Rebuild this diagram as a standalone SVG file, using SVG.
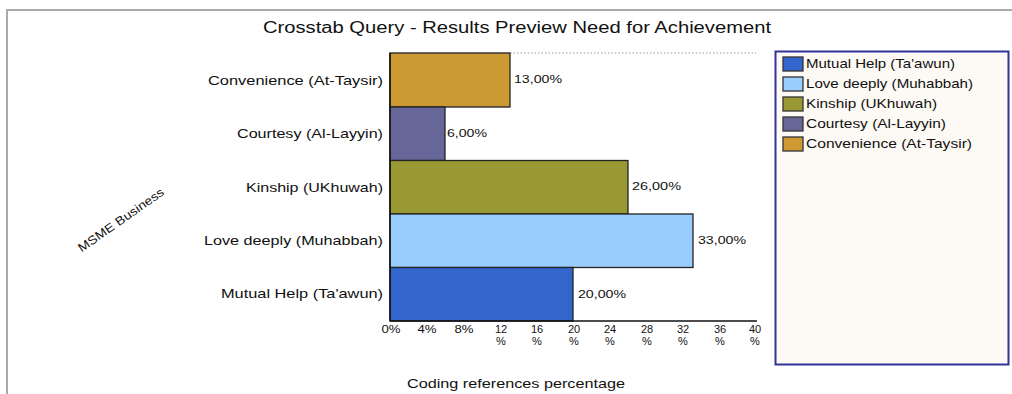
<svg xmlns="http://www.w3.org/2000/svg" width="1012" height="394" viewBox="0 0 1012 394">
<style>
text{font-family:"Liberation Sans",Arial,sans-serif;fill:#111}
.cat{font-size:13px;text-anchor:end}
.val{font-size:11.5px}
.tick{font-size:11px;text-anchor:middle}
.leg{font-size:13px}
.bar{stroke:#222;stroke-width:1.3}
.sw{stroke:#333;stroke-width:1.3}
</style>
<rect width="1012" height="394" fill="#fff"/>
<path d="M7 394 V10 H1012" fill="none" stroke="#aaa" stroke-width="2"/>
<text x="263" y="33" font-size="16" textLength="508" lengthAdjust="spacingAndGlyphs">Crosstab Query - Results Preview Need for Achievement</text>
<line x1="510" y1="53" x2="756" y2="53" stroke="#999" stroke-width="1" stroke-dasharray="1.5,2"/>
<g id="bars">
<g id="convenience"><rect class="bar" x="390" y="53" width="120" height="54" fill="#cc9933"/><text class="val" x="514" y="83" textLength="48" lengthAdjust="spacingAndGlyphs">13,00%</text></g>
<g id="courtesy"><rect class="bar" x="390" y="107" width="55" height="53.5" fill="#666699"/><text class="val" x="447" y="137" textLength="40" lengthAdjust="spacingAndGlyphs">6,00%</text></g>
<g id="kinship"><rect class="bar" x="390" y="160.5" width="238" height="53.5" fill="#999933"/><text class="val" x="632" y="190" textLength="49" lengthAdjust="spacingAndGlyphs">26,00%</text></g>
<g id="love"><rect class="bar" x="390" y="214" width="303" height="53.5" fill="#99ccff"/><text class="val" x="698" y="244" textLength="48" lengthAdjust="spacingAndGlyphs">33,00%</text></g>
<g id="mutual"><rect class="bar" x="390" y="267.5" width="183" height="53.5" fill="#3366cc"/><text class="val" x="578" y="298" textLength="48" lengthAdjust="spacingAndGlyphs">20,00%</text></g>
</g>
<g id="categories">
<text class="cat" x="383" y="85" textLength="175" lengthAdjust="spacingAndGlyphs">Convenience (At-Taysir)</text>
<text class="cat" x="383" y="138" textLength="146" lengthAdjust="spacingAndGlyphs">Courtesy (Al-Layyin)</text>
<text class="cat" x="383" y="192" textLength="137" lengthAdjust="spacingAndGlyphs">Kinship (UKhuwah)</text>
<text class="cat" x="383" y="245" textLength="179" lengthAdjust="spacingAndGlyphs">Love deeply (Muhabbah)</text>
<text class="cat" x="383" y="298" textLength="162" lengthAdjust="spacingAndGlyphs">Mutual Help (Ta'awun)</text>
</g>
<g id="axis">
<line x1="390" y1="321" x2="757" y2="321" stroke="#111" stroke-width="1.5"/>
<line x1="390" y1="53" x2="390" y2="321" stroke="#111" stroke-width="1.5"/>
<text class="tick" x="391" y="332.5" textLength="19" lengthAdjust="spacingAndGlyphs">0%</text>
<text class="tick" x="427" y="332.5" textLength="19" lengthAdjust="spacingAndGlyphs">4%</text>
<text class="tick" x="464" y="332.5" textLength="19" lengthAdjust="spacingAndGlyphs">8%</text>
<text class="tick" y="332.5"><tspan x="501">12</tspan><tspan x="501" dy="12.6">%</tspan></text>
<text class="tick" y="332.5"><tspan x="537">16</tspan><tspan x="537" dy="12.6">%</tspan></text>
<text class="tick" y="332.5"><tspan x="574">20</tspan><tspan x="574" dy="12.6">%</tspan></text>
<text class="tick" y="332.5"><tspan x="610">24</tspan><tspan x="610" dy="12.6">%</tspan></text>
<text class="tick" y="332.5"><tspan x="647">28</tspan><tspan x="647" dy="12.6">%</tspan></text>
<text class="tick" y="332.5"><tspan x="683">32</tspan><tspan x="683" dy="12.6">%</tspan></text>
<text class="tick" y="332.5"><tspan x="720">36</tspan><tspan x="720" dy="12.6">%</tspan></text>
<text class="tick" y="332.5"><tspan x="755">40</tspan><tspan x="755" dy="12.6">%</tspan></text>
</g>
<text x="407" y="388" font-size="13" textLength="218" lengthAdjust="spacingAndGlyphs">Coding references percentage</text>
<text x="121" y="224" font-size="12" text-anchor="middle" textLength="102" lengthAdjust="spacingAndGlyphs" transform="rotate(-35 121 220)">MSME Business</text>
<g id="legend">
<rect x="775.5" y="51.5" width="233" height="313" fill="#fdf9f4" stroke="#333399" stroke-width="2"/>
<rect class="sw" x="783" y="57" width="20" height="14" fill="#3366cc"/><text class="leg" x="806" y="67.5" textLength="149" lengthAdjust="spacingAndGlyphs">Mutual Help (Ta'awun)</text>
<rect class="sw" x="783" y="77" width="20" height="14" fill="#99ccff"/><text class="leg" x="806" y="87.5" textLength="167" lengthAdjust="spacingAndGlyphs">Love deeply (Muhabbah)</text>
<rect class="sw" x="783" y="97" width="20" height="14" fill="#999933"/><text class="leg" x="806" y="107.5" textLength="131" lengthAdjust="spacingAndGlyphs">Kinship (UKhuwah)</text>
<rect class="sw" x="783" y="117" width="20" height="14" fill="#666699"/><text class="leg" x="806" y="127.5" textLength="140" lengthAdjust="spacingAndGlyphs">Courtesy (Al-Layyin)</text>
<rect class="sw" x="783" y="137" width="20" height="14" fill="#cc9933"/><text class="leg" x="806" y="147.5" textLength="166" lengthAdjust="spacingAndGlyphs">Convenience (At-Taysir)</text>
</g>
</svg>
